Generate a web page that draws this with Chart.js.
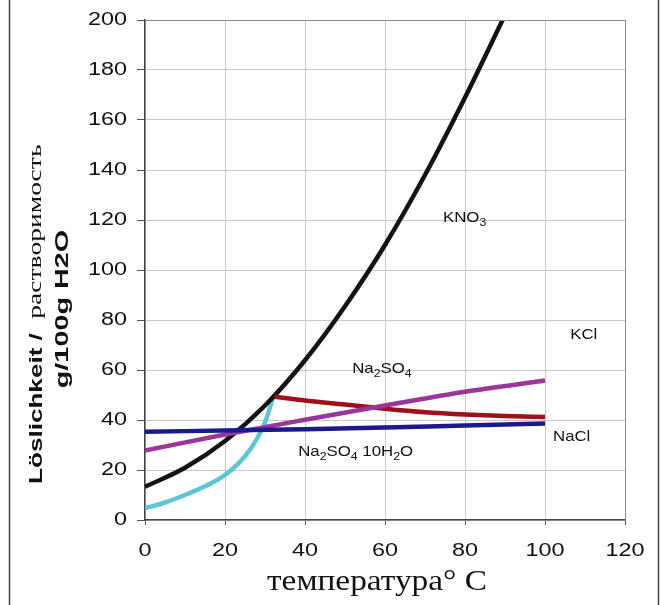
<!DOCTYPE html>
<html>
<head>
<meta charset="utf-8">
<script src="https://cdn.jsdelivr.net/npm/chart.js@4"></script>
<style>
  body { margin: 0; background: #fff; }
</style>
</head>
<body>
<canvas id="grafico" width="660" height="605"></canvas>
<script>
// daten
var tempKNO3 = [0, 10, 20, 30, 40, 50, 60, 70, 80, 90]
var kno3 = [13.3, 20.9, 31.6, 45.8, 63.9, 85.5, 110, 138, 169, 202]

var tempNa2SO4_10 = [0, 5, 10, 15, 20, 25, 28, 30, 32]
var na2so4_10h2o = [4.7, 7, 10, 13.5, 18, 25.5, 32.5, 39, 49]

var tempNa2SO4 = [32.4, 40, 50, 60, 70, 80, 90, 100]
var na2so4 = [49.3, 47.8, 46.2, 44.5, 43.1, 42.2, 41.6, 41.2]

var tempKCl = [0, 20, 40, 60, 80, 100]
var kcl = [27.8, 34.2, 40.1, 45.8, 51.3, 55.8]

var tempNaCl = [0, 20, 40, 60, 80, 100]
var nacl = [35.3, 35.8, 36.3, 37, 37.8, 38.6]

var xTicks = [0, 20, 40, 60, 80, 100, 120]
var yTicks = [0, 20, 40, 60, 80, 100, 120, 140, 160, 180, 200]

// beschriftungen im diagramm: [text-teile, x, y]
var beschriftungen = [
  { teile: [['KNO', 0], ['3', 1]], x: 74.5, y: 121 },
  { teile: [['KCl', 0]], x: 106.3, y: 74 },
  { teile: [['Na', 0], ['2', 1], ['SO', 0], ['4', 1]], x: 51.8, y: 60.4 },
  { teile: [['NaCl', 0]], x: 102, y: 33.2 },
  { teile: [['Na', 0], ['2', 1], ['SO', 0], ['4', 1], [' 10H', 0], ['2', 1], ['O', 0]], x: 38.3, y: 27.2 }
]

function punkte(xs, ys) {
  var p = []
  for (let i = 0; i < xs.length; i++) {
    p.push({ x: xs[i], y: ys[i] })
  }
  return p
}

function serie(xs, ys, farbe, breite) {
  return {
    data: punkte(xs, ys),
    borderColor: farbe,
    borderWidth: breite,
    showLine: true,
    pointRadius: 0,
    cubicInterpolationMode: 'monotone',
    fill: false
  }
}

// gestreckter text (das original ist etwas verzerrt)
function textGestreckt(ctx, text, x, y, font, sx, align) {
  ctx.save()
  ctx.font = font
  ctx.translate(x, y)
  ctx.scale(sx, 1)
  ctx.textAlign = align
  ctx.textBaseline = 'middle'
  ctx.fillText(text, 0, 0)
  ctx.restore()
}

var zeichnen = {
  id: 'zeichnen',
  beforeDraw(chart) {
    const ctx = chart.ctx
    ctx.save()
    ctx.fillStyle = '#fff'
    ctx.fillRect(0, 0, chart.width, chart.height)
    ctx.strokeStyle = '#444'
    ctx.lineWidth = 1.5
    ctx.beginPath()
    ctx.moveTo(9.5, 0); ctx.lineTo(9.5, chart.height)
    ctx.moveTo(658.5, 0); ctx.lineTo(658.5, chart.height)
    ctx.stroke()
    ctx.restore()
  },
  afterDraw(chart) {
    const ctx = chart.ctx
    const xs = chart.scales.x
    const ys = chart.scales.y
    const a = chart.chartArea

    // rahmen oben und rechts
    ctx.save()
    ctx.strokeStyle = '#8a8a8a'
    ctx.lineWidth = 1
    ctx.beginPath()
    ctx.moveTo(a.left, a.top + 0.5); ctx.lineTo(a.right + 0.5, a.top + 0.5)
    ctx.lineTo(a.right + 0.5, a.bottom)
    ctx.stroke()
    ctx.restore()

    ctx.fillStyle = '#111'
    // achsenbeschriftung
    for (let i = 0; i < yTicks.length; i++) {
      textGestreckt(ctx, String(yTicks[i]), 127, ys.getPixelForValue(yTicks[i]), '18px "Liberation Sans", Arial', 1.3, 'right')
    }
    for (let i = 0; i < xTicks.length; i++) {
      textGestreckt(ctx, String(xTicks[i]), xs.getPixelForValue(xTicks[i]), 551, '18px "Liberation Sans", Arial', 1.3, 'center')
    }

    // x titel
    textGestreckt(ctx, 'температура° C', 377, 582, '29px "Liberation Serif", "DejaVu Serif", serif', 1.15, 'center')

    // y titel, gedreht
    ctx.save()
    ctx.translate(37, 484)
    ctx.rotate(-Math.PI / 2)
    ctx.scale(1.45, 1)
    ctx.textAlign = 'left'
    ctx.textBaseline = 'middle'
    ctx.font = 'bold 18px "Liberation Sans", Arial'
    var t1 = 'Löslichkeit /  '
    ctx.fillText(t1, 0, 0)
    var w1 = ctx.measureText(t1).width
    ctx.font = '19px "Liberation Serif", serif'
    ctx.fillText('растворимость', w1, -1)
    ctx.restore()

    ctx.save()
    ctx.translate(63, 309)
    ctx.rotate(-Math.PI / 2)
    ctx.scale(1.6, 1)
    ctx.textAlign = 'center'
    ctx.textBaseline = 'middle'
    ctx.font = 'bold 18px "Liberation Sans", Arial'
    ctx.fillText('g/100g H2O', 0, 0)
    ctx.restore()

    // stoffnamen mit tiefgestellten zahlen
    for (let b of beschriftungen) {
      ctx.save()
      let px = xs.getPixelForValue(b.x)
      let py = ys.getPixelForValue(b.y)
      ctx.translate(px, py)
      ctx.scale(1.12, 1)
      ctx.textAlign = 'left'
      ctx.textBaseline = 'middle'
      let pos = 0
      for (let t of b.teile) {
        if (t[1] == 1) {
          ctx.font = '11px "Liberation Sans", Arial'
          ctx.fillText(t[0], pos, 5)
        } else {
          ctx.font = '15px "Liberation Sans", Arial'
          ctx.fillText(t[0], pos, 0)
        }
        pos += ctx.measureText(t[0]).width
      }
      ctx.restore()
    }
  }
}

const config = {
  type: 'scatter',
  data: {
    datasets: [
      serie(tempNaCl, nacl, '#1c1a8a', 4.5),
      serie(tempKCl, kcl, '#9a359c', 4.5),
      serie(tempNa2SO4, na2so4, '#a0101a', 4.5),
      serie(tempKNO3, kno3, '#141414', 4.5),
      serie(tempNa2SO4_10, na2so4_10h2o, '#5cc6d6', 4.5)
    ]
  },
  options: {
    responsive: false,
    devicePixelRatio: 1,
    animation: false,
    layout: { padding: { top: 20, right: 35, left: 0, bottom: 0 } },
    plugins: { legend: { display: false }, tooltip: { enabled: false } },
    scales: {
      x: {
        type: 'linear', min: 0, max: 120,
        ticks: { stepSize: 20, display: false },
        grid: { color: '#c8c8c8', lineWidth: 1, tickLength: 5, tickColor: '#555' },
        border: { color: '#444', width: 1.5 },
        afterFit: function (s) { s.height = 85 }
      },
      y: {
        type: 'linear', min: 0, max: 200,
        ticks: { stepSize: 20, display: false },
        grid: { color: '#c8c8c8', lineWidth: 1, tickLength: 8, tickColor: '#555' },
        border: { color: '#444', width: 1.5 },
        afterFit: function (s) { s.width = 145 }
      }
    }
  },
  plugins: [zeichnen]
}

let myChart = new Chart(document.getElementById('grafico'), config)
</script>
</body>
</html>
